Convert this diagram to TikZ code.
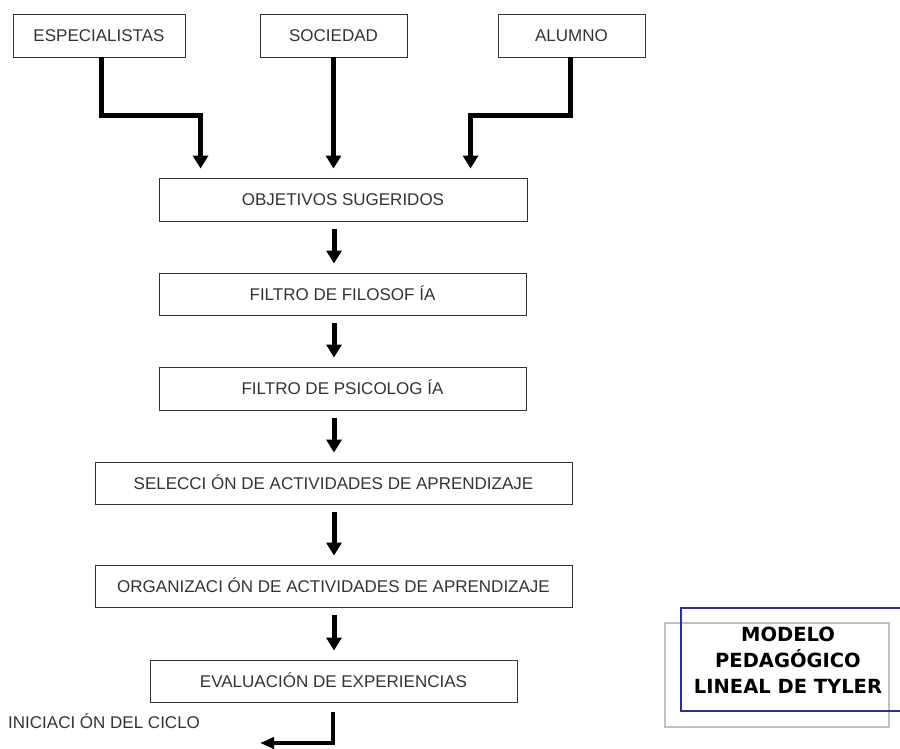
\documentclass[tikz,border=0pt]{standalone}
\usepackage{fontspec}
\setmainfont{Liberation Sans}
\newfontfamily\titlefont{DejaVu Sans}
\usetikzlibrary{arrows.meta,calc}
\definecolor{modelblue}{RGB}{46,49,146}
\definecolor{boxgray}{RGB}{192,192,192}
\begin{document}
\begin{tikzpicture}[x=1pt,y=-1pt,
  box/.style={draw=black!80, line width=0.9pt, inner sep=0pt,
    text height=12.2pt, text depth=0pt, text=black!80,
    font=\fontsize{17}{20}\selectfont},
  lbl/.style={inner sep=0pt, text height=12.2pt, text depth=0pt, text=black!80,
    font=\fontsize{17}{20}\selectfont},
  arr/.style={line width=5pt, line join=miter, -{Triangle[width=15pt,length=13pt]}},
  arrs/.style={line width=4pt, line join=miter, -{Triangle[width=11pt,length=14pt]}},
  title/.style={inner sep=0pt, align=center, text=black,
    font=\titlefont\bfseries\fontsize{19.5}{26}\selectfont}
]
\useasboundingbox (0,0) rectangle (900,749);

% top boxes
\node[box, minimum width=172pt, minimum height=43pt] (esp) at (99,35.5) {ESPECIALISTAS};
\node[box, minimum width=147pt, minimum height=43pt] (soc) at (333.5,35.5) {SOCIEDAD};
\node[box, minimum width=147pt, minimum height=43pt] (alu) at (571.5,35.5) {ALUMNO};

% main column
\node[box, minimum width=368pt, minimum height=43pt] (obj) at (343,199.5) {OBJETIVOS SUGERIDOS};
\node[box, minimum width=367pt, minimum height=42pt] (fil) at (342.5,294) {FILTRO DE FILOSOF ÍA};
\node[box, minimum width=367pt, minimum height=43pt] (psi) at (342.5,388.5) {FILTRO DE PSICOLOG ÍA};
\node[box, minimum width=477pt, minimum height=42pt] (sel) at (333.5,483) {SELECCI ÓN DE ACTIVIDADES DE APRENDIZAJE};
\node[box, minimum width=477pt, minimum height=42pt] (org) at (333.5,586) {ORGANIZACI ÓN DE ACTIVIDADES DE APRENDIZAJE};
\node[box, minimum width=367pt, minimum height=42pt] (eva) at (333.5,681) {EVALUACIÓN DE EXPERIENCIAS};

\node[lbl, anchor=west] (ini) at (8,722) {INICIACI ÓN DEL CICLO};

\coordinate (ax) at (334,0);
\coordinate (iniend) at (260,743);

% top arrows
\draw[arr, shorten >=9pt] ([xshift=2pt]esp.south) -- ++(0,58) -| ($(obj.north west)+(42,0)$);
\draw[arr, shorten >=9pt] (soc.south) -- (soc.south |- obj.north);
\draw[arr, shorten >=9pt] ([xshift=-1.5pt]alu.south) -- ++(0,58) -| ($(obj.north west)+(312,0)$);

% column arrows
\draw[arr, shorten <=8pt, shorten >=9pt] (obj.south -| ax) -- (fil.north -| ax);
\draw[arr, shorten <=8pt, shorten >=9pt] (fil.south -| ax) -- (psi.north -| ax);
\draw[arr, shorten <=8pt, shorten >=9pt] (psi.south -| ax) -- (sel.north -| ax);
\draw[arr, shorten <=8pt, shorten >=9pt] (sel.south -| ax) -- (org.north -| ax);
\draw[arr, shorten <=8pt, shorten >=9pt] (org.south -| ax) -- (eva.north -| ax);

% loop back arrow
\draw[arrs, shorten <=10pt] ([xshift=-1pt]eva.south -| ax) |- (iniend);

% model title
\draw[draw=boxgray, line width=1.5pt] (665,623) rectangle (889,727);
\draw[draw=modelblue, line width=1.2pt] (681,608) rectangle (912,711);
\node[title] (model) at (788,660) {MODELO\\PEDAGÓGICO\\LINEAL DE TYLER};
\end{tikzpicture}
\end{document}
